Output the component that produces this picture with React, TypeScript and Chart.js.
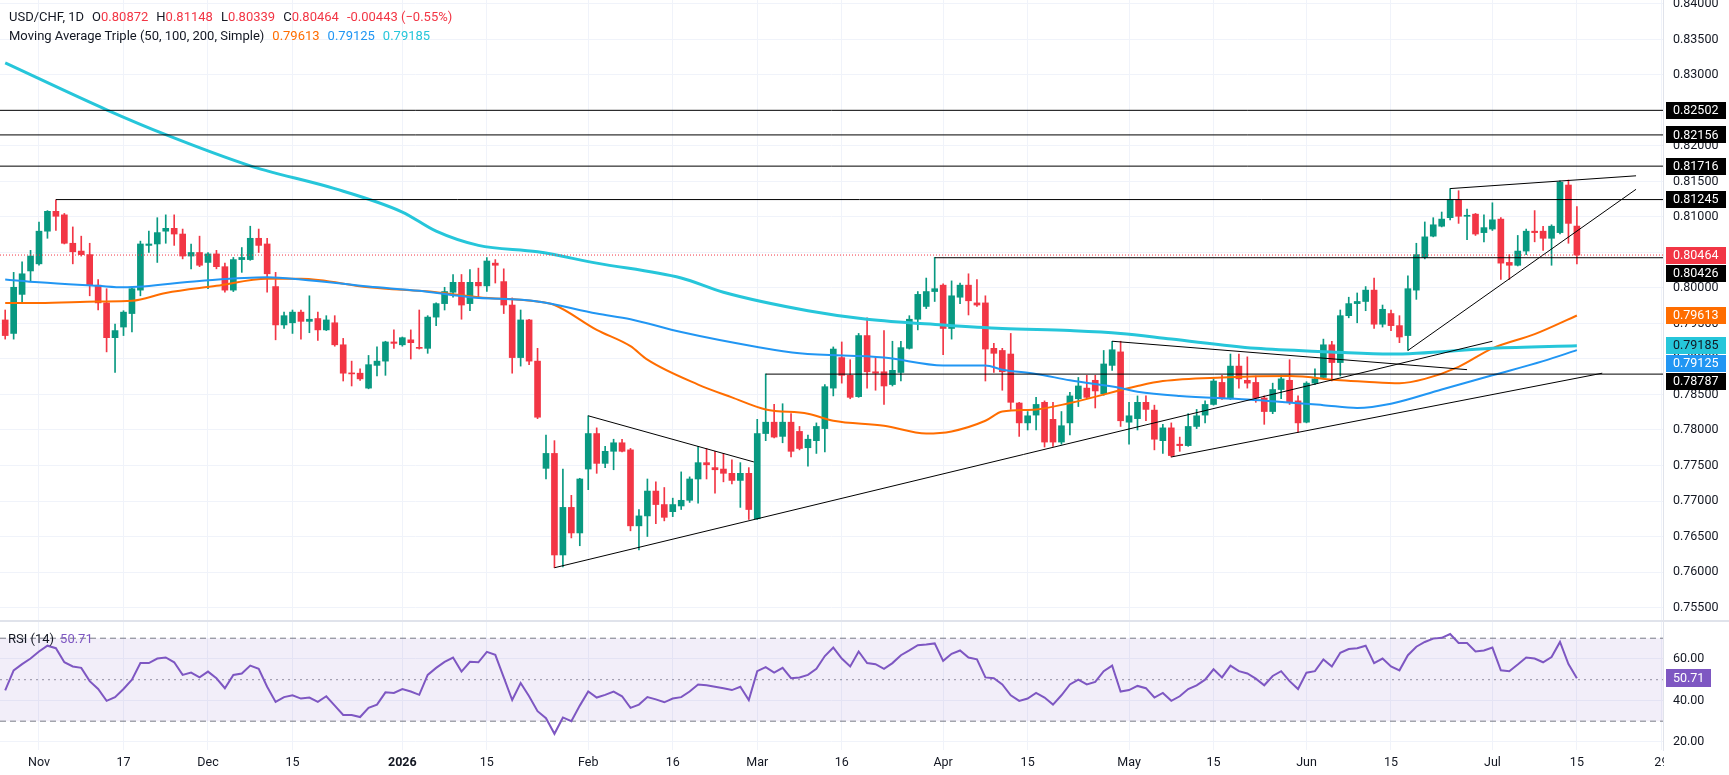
import React, { useEffect, useRef } from "react";
import { Chart, registerables } from "chart.js";

Chart.register(...registerables);

const FONT = "Roboto, 'Noto Sans', sans-serif";
const TEXT = "#131722";
const GRID = "#f0f3fa";
const UP = "#089981";
const DOWN = "#F23645";
const C50 = "#FF6D00";
const C100 = "#2196F3";
const C200 = "#26C6DA";
const RSI_COLOR = "#7E57C2";

// bar index 0 = 3 Nov 2025 (daily bars, weekdays)
const FIRST_INDEX = -4;
const X_MIN = -4.615;
const X_MAX = 192.19;

const OPEN = [
  0.7955, 0.7936, 0.7991, 0.8024, 0.8034, 0.8080, 0.8108, 0.8103, 0.8063, 0.8052,
  0.8047, 0.8004, 0.7979, 0.7930, 0.7945, 0.7964, 0.7997, 0.8060, 0.8062, 0.8080,
  0.8084, 0.8076, 0.8045, 0.8050, 0.8036, 0.8048, 0.8030, 0.7997, 0.8040, 0.8040,
  0.8070, 0.8062, 0.8002, 0.7948, 0.7951, 0.7966, 0.7953, 0.7957, 0.7941, 0.7951,
  0.7920, 0.7880, 0.7880, 0.7859, 0.7891, 0.7897, 0.7924, 0.7920, 0.7927, 0.7916,
  0.7915, 0.7959, 0.7978, 0.7994, 0.8008, 0.7978, 0.8008, 0.8003, 0.8035, 0.8009,
  0.7976, 0.7902, 0.7955, 0.7897, 0.7746, 0.7767, 0.7624, 0.7691, 0.7655, 0.7745,
  0.7795, 0.7753, 0.7770, 0.7782, 0.7772, 0.7665, 0.7679, 0.7714, 0.7695, 0.7685,
  0.7693, 0.7701, 0.7731, 0.7754, 0.7747, 0.7745, 0.7739, 0.7729, 0.7739, 0.7675,
  0.7795, 0.7811, 0.7791, 0.7811, 0.7798, 0.7775, 0.7785, 0.7802, 0.7859, 0.7902,
  0.7877, 0.7847, 0.7933, 0.7882, 0.7882, 0.7864, 0.7881, 0.7915, 0.7956, 0.7974,
  0.7995, 0.8004, 0.7943, 0.7987, 0.8004, 0.7979, 0.7979, 0.7915, 0.7912, 0.7907,
  0.7838, 0.7810, 0.7821, 0.7839, 0.7815, 0.7783, 0.7810, 0.7844, 0.7859, 0.7870,
  0.7851, 0.7891, 0.7910, 0.7811, 0.7816, 0.7839, 0.7828, 0.7785, 0.7803, 0.7780,
  0.7778, 0.7805, 0.7821, 0.7836, 0.7867, 0.7844, 0.7890, 0.7870, 0.7867, 0.7845,
  0.7826, 0.7857, 0.7870, 0.7841, 0.7811, 0.7866, 0.7874, 0.7920, 0.7895, 0.7961,
  0.7978, 0.7981, 0.7997, 0.7949, 0.7964, 0.7947, 0.7933, 0.7997, 0.8043, 0.8073,
  0.8087, 0.8099, 0.8124, 0.8101, 0.8104, 0.8078, 0.8083, 0.8097, 0.8036, 0.8032,
  0.8052, 0.8080, 0.8080, 0.8070, 0.8078, 0.8145, 0.80872,
];
const HIGH = [
  0.7969, 0.8022, 0.8037, 0.8053, 0.8093, 0.8109, 0.8124, 0.8105, 0.8086, 0.8073,
  0.8063, 0.8012, 0.7999, 0.7949, 0.7968, 0.8001, 0.8066, 0.8080, 0.8099, 0.8103,
  0.8103, 0.8083, 0.8062, 0.8073, 0.8050, 0.8053, 0.8035, 0.8043, 0.8057, 0.8087,
  0.8083, 0.8070, 0.8022, 0.7966, 0.7969, 0.7969, 0.7989, 0.7966, 0.7961, 0.7961,
  0.7929, 0.7897, 0.7886, 0.7905, 0.7917, 0.7925, 0.7941, 0.7931, 0.7941, 0.7969,
  0.7961, 0.7979, 0.8001, 0.8019, 0.8019, 0.8026, 0.8028, 0.8043, 0.8040, 0.8027,
  0.7986, 0.7969, 0.7956, 0.7915, 0.7793, 0.7785, 0.7745, 0.7708, 0.7732, 0.7820,
  0.7803, 0.7777, 0.7787, 0.7787, 0.7774, 0.7688, 0.7731, 0.7727, 0.7719, 0.7704,
  0.7741, 0.7734, 0.7777, 0.7774, 0.7770, 0.7767, 0.7758, 0.7754, 0.7747, 0.7815,
  0.7879, 0.7836, 0.7837, 0.7823, 0.7805, 0.7793, 0.7810, 0.7864, 0.7917, 0.7924,
  0.7899, 0.7936, 0.7958, 0.7903, 0.7940, 0.7925, 0.7925, 0.7961, 0.7995, 0.8014,
  0.8043, 0.8006, 0.8010, 0.8007, 0.8020, 0.8012, 0.7989, 0.7922, 0.7915, 0.7936,
  0.7839, 0.7826, 0.7846, 0.7841, 0.7839, 0.7826, 0.7853, 0.7874, 0.7877, 0.7877,
  0.7912, 0.7925, 0.7925, 0.7839, 0.7848, 0.7848, 0.7835, 0.7808, 0.7810, 0.7790,
  0.7823, 0.7829, 0.7841, 0.7872, 0.7877, 0.7907, 0.7907, 0.7903, 0.7876, 0.7848,
  0.7866, 0.7877, 0.7899, 0.7848, 0.7868, 0.7886, 0.7928, 0.7925, 0.7969, 0.7987,
  0.7993, 0.8002, 0.8014, 0.7976, 0.7969, 0.7961, 0.8017, 0.8063, 0.8093, 0.8099,
  0.8107, 0.8140, 0.8137, 0.8111, 0.8105, 0.8103, 0.8120, 0.8099, 0.8047, 0.8074,
  0.8083, 0.8109, 0.8087, 0.8089, 0.8151, 0.8152, 0.81148,
];
const LOW = [
  0.7928, 0.7928, 0.7978, 0.8010, 0.8032, 0.8070, 0.8081, 0.8062, 0.8034, 0.8045,
  0.7989, 0.7969, 0.7910, 0.7881, 0.7933, 0.7938, 0.7989, 0.8050, 0.8036, 0.8063,
  0.8060, 0.8041, 0.8027, 0.8030, 0.7999, 0.8027, 0.7994, 0.7995, 0.8022, 0.8039,
  0.8050, 0.7994, 0.7927, 0.7943, 0.7936, 0.7928, 0.7937, 0.7926, 0.7940, 0.7918,
  0.7869, 0.7862, 0.7870, 0.7858, 0.7876, 0.7877, 0.7915, 0.7918, 0.7900, 0.7914,
  0.7908, 0.7947, 0.7969, 0.7987, 0.7956, 0.7968, 0.7986, 0.7995, 0.8007, 0.7964,
  0.7880, 0.7890, 0.7892, 0.7816, 0.7731, 0.7606, 0.7607, 0.7648, 0.7637, 0.7716,
  0.7739, 0.7747, 0.7744, 0.7769, 0.7658, 0.7631, 0.7650, 0.7668, 0.7672, 0.7678,
  0.7688, 0.7698, 0.7697, 0.7731, 0.7711, 0.7727, 0.7724, 0.7691, 0.7674, 0.7674,
  0.7785, 0.7789, 0.7782, 0.7762, 0.7772, 0.7749, 0.7767, 0.7769, 0.7848, 0.7866,
  0.7844, 0.7846, 0.7859, 0.7856, 0.7836, 0.7862, 0.7869, 0.7914, 0.7941, 0.7971,
  0.7981, 0.7906, 0.7928, 0.7978, 0.7962, 0.7974, 0.7869, 0.7881, 0.7856, 0.7829,
  0.7791, 0.7800, 0.7800, 0.7776, 0.7777, 0.7780, 0.7793, 0.7833, 0.7844, 0.7831,
  0.7849, 0.7884, 0.7805, 0.7780, 0.7800, 0.7813, 0.7772, 0.7767, 0.7762, 0.7770,
  0.7777, 0.7802, 0.7810, 0.7835, 0.7843, 0.7843, 0.7859, 0.7859, 0.7839, 0.7808,
  0.7823, 0.7844, 0.7836, 0.7797, 0.7810, 0.7864, 0.7872, 0.7869, 0.7876, 0.7958,
  0.7951, 0.7968, 0.7943, 0.7945, 0.7940, 0.7923, 0.7912, 0.7984, 0.8041, 0.8072,
  0.8086, 0.8096, 0.8091, 0.8068, 0.8074, 0.8065, 0.8081, 0.8012, 0.8012, 0.8031,
  0.8047, 0.8065, 0.8053, 0.8032, 0.8076, 0.8063, 0.80339,
];
const CLOSE = [
  0.7933, 0.8001, 0.8020, 0.8045, 0.8080, 0.8108, 0.8101, 0.8063, 0.8051, 0.8047,
  0.8004, 0.7979, 0.7930, 0.7940, 0.7966, 0.7999, 0.8062, 0.8062, 0.8078, 0.8084,
  0.8076, 0.8045, 0.8050, 0.8032, 0.8048, 0.8030, 0.7997, 0.8040, 0.8043, 0.8070,
  0.8060, 0.8020, 0.7948, 0.7961, 0.7966, 0.7953, 0.7956, 0.7941, 0.7955, 0.7920,
  0.7880, 0.7879, 0.7872, 0.7892, 0.7897, 0.7924, 0.7922, 0.7930, 0.7923, 0.7915,
  0.7959, 0.7978, 0.7995, 0.8008, 0.7976, 0.8008, 0.8003, 0.8038, 0.8032, 0.7976,
  0.7902, 0.7955, 0.7897, 0.7818, 0.7767, 0.7624, 0.7691, 0.7655, 0.7731, 0.7795,
  0.7753, 0.7770, 0.7782, 0.7770, 0.7665, 0.7679, 0.7714, 0.7695, 0.7677, 0.7695,
  0.7701, 0.7731, 0.7754, 0.7751, 0.7744, 0.7739, 0.7729, 0.7739, 0.7688, 0.7795,
  0.7811, 0.7790, 0.7811, 0.7770, 0.7774, 0.7787, 0.7805, 0.7861, 0.7914, 0.7877,
  0.7846, 0.7933, 0.7882, 0.7880, 0.7862, 0.7884, 0.7916, 0.7956, 0.7991, 0.7995,
  0.7999, 0.7943, 0.7989, 0.8004, 0.7982, 0.7976, 0.7914, 0.7908, 0.7882, 0.7839,
  0.7810, 0.7820, 0.7836, 0.7783, 0.7783, 0.7806, 0.7848, 0.7862, 0.7846, 0.7855,
  0.7893, 0.7913, 0.7813, 0.7820, 0.7839, 0.7829, 0.7787, 0.7803, 0.7764, 0.7778,
  0.7805, 0.7820, 0.7836, 0.7869, 0.7844, 0.7890, 0.7872, 0.7866, 0.7845, 0.7826,
  0.7857, 0.7872, 0.7839, 0.7810, 0.7866, 0.7872, 0.7920, 0.7895, 0.7961, 0.7978,
  0.7981, 0.7997, 0.7949, 0.7970, 0.7947, 0.7931, 0.7999, 0.8047, 0.8072, 0.8089,
  0.8097, 0.8124, 0.8101, 0.8102, 0.8076, 0.8085, 0.8096, 0.8035, 0.8032, 0.8052,
  0.8080, 0.8078, 0.8070, 0.8087, 0.8149, 0.8091, 0.80464,
];

const RSI_VALUES = [
  44.8, 54.5, 57.5, 60.2, 63.6, 66.4, 65.2, 58.4, 56.4, 55.7,
  49.3, 45.5, 39.8, 41.6, 45.5, 50.0, 58.0, 58.0, 60.2, 60.7,
  58.4, 52.3, 53.4, 51.1, 53.9, 50.7, 45.9, 52.3, 53.0, 56.8,
  55.2, 46.6, 39.3, 41.6, 42.5, 40.9, 41.4, 39.3, 42.0, 37.5,
  33.0, 33.0, 32.0, 36.4, 38.0, 43.9, 43.6, 45.5, 44.3, 42.7,
  52.3, 55.7, 58.6, 60.7, 53.9, 58.6, 58.4, 63.4, 62.0, 51.1,
  40.2, 48.4, 42.0, 34.8, 31.4, 23.9, 31.8, 30.0, 37.5, 44.3,
  41.4, 42.7, 44.3, 42.0, 36.4, 38.0, 41.6, 40.5, 39.1, 40.9,
  41.6, 44.3, 47.7, 47.3, 46.6, 45.9, 45.0, 46.6, 40.2, 54.1,
  56.1, 53.4, 55.7, 50.7, 51.1, 52.3, 55.2, 61.4, 65.5, 60.2,
  56.4, 63.6, 58.0, 57.5, 55.2, 58.0, 61.8, 64.1, 66.6, 67.0,
  67.5, 59.1, 62.5, 64.1, 60.7, 59.8, 51.1, 50.7, 47.7, 42.5,
  39.8, 40.9, 43.6, 41.4, 38.0, 42.5, 47.7, 50.0, 47.7, 48.9,
  54.1, 56.8, 44.3, 45.0, 47.0, 45.9, 41.4, 43.6, 39.8, 42.0,
  45.5, 47.3, 50.0, 55.0, 51.1, 56.8, 54.1, 53.0, 50.5, 47.3,
  51.8, 54.1, 49.3, 45.5, 53.4, 54.1, 59.8, 56.4, 63.0, 64.8,
  65.2, 66.4, 58.0, 60.2, 56.4, 54.5, 61.8, 65.9, 68.2, 69.8,
  70.2, 72.0, 67.7, 67.7, 63.6, 64.1, 65.5, 54.5, 54.1, 57.3,
  60.7, 60.2, 58.4, 60.9, 68.2, 57.5, 50.71,
];

const SMA50_X = [-4, 0, 7, 11, 15, 21, 27, 31, 39, 47, 52, 59, 61, 66, 70, 72, 78, 82, 86, 91, 94, 100, 105, 108, 112, 114, 118, 122, 130, 133, 140, 148, 154, 157, 161, 164, 168, 172, 177, 182];
const SMA50_Y = [0.7979, 0.7979, 0.7981, 0.7982, 0.7993, 0.8003, 0.8013, 0.8013, 0.8001, 0.7994, 0.7987, 0.7981, 0.7976, 0.7941, 0.7918, 0.7899, 0.7864, 0.7846, 0.7829, 0.7823, 0.7813, 0.7806, 0.7795, 0.7798, 0.7813, 0.7826, 0.7829, 0.7838, 0.7862, 0.7869, 0.7874, 0.7876, 0.7870, 0.7868, 0.7866, 0.7872, 0.7889, 0.7915, 0.7935, 0.79613];
const SMA100_X = [-4, 0, 7, 10, 19, 27, 31, 39, 45, 51, 59, 66, 70, 76, 85, 90, 100, 107, 112, 114, 118, 122, 128, 130, 135, 143, 152, 156, 160, 166, 172, 178, 182];
const SMA100_Y = [0.8012, 0.8008, 0.8003, 0.8001, 0.8010, 0.8015, 0.8012, 0.8002, 0.7996, 0.7987, 0.7981, 0.7964, 0.7956, 0.7938, 0.7917, 0.7908, 0.7902, 0.7891, 0.7891, 0.7885, 0.7879, 0.7870, 0.7859, 0.7854, 0.7848, 0.7843, 0.7835, 0.7831, 0.7837, 0.7857, 0.7877, 0.7897, 0.79125];
const SMA200_X = [-4, 8, 15, 25, 27, 35, 43, 47, 52, 59, 66, 76, 81, 91, 98, 107, 114, 122, 128, 134, 144, 153, 160, 172, 182];
const SMA200_Y = [0.8317, 0.8251, 0.8216, 0.8172, 0.8165, 0.8140, 0.8107, 0.8080, 0.8060, 0.8051, 0.8035, 0.8014, 0.7994, 0.7968, 0.7956, 0.7948, 0.7943, 0.7940, 0.7936, 0.7928, 0.7915, 0.7910, 0.7907, 0.7915, 0.79185];

// horizontal levels and where they start (bar index)
const LEVELS = [0.82502, 0.82156, 0.81716, 0.81245, 0.80426, 0.78787];
const LEVEL_START = [X_MIN, X_MIN, X_MIN, 2, 106, 86];
const LAST_PRICE = 0.80464;

// trend lines: [x1, y1, x2, y2]
const TRENDLINES = [
  [65, 0.7820, 84.6, 0.7755],
  [61, 0.7606, 172, 0.7925],
  [127, 0.7925, 169, 0.7885],
  [134, 0.7762, 185, 0.7880],
  [162, 0.7912, 189, 0.8139],
  [167, 0.8140, 189, 0.8158],
];

const PRICE_TICKS = [0.755, 0.76, 0.765, 0.77, 0.775, 0.78, 0.785, 0.79, 0.795, 0.8, 0.805, 0.81, 0.815, 0.82, 0.825, 0.83, 0.835, 0.84];
const RSI_TICKS = [20, 40, 60];
const TICK_INDEX = [0, 10, 20, 30, 43, 53, 65, 75, 85, 95, 107, 117, 129, 139, 150, 160, 172, 182, 192];
const TICK_LABELS = ["Nov", "17", "Dec", "15", "2026", "15", "Feb", "16", "Mar", "16", "Apr", "15", "May", "15", "Jun", "15", "Jul", "15", "29"];

const TAG_VALUES = [0.82502, 0.82156, 0.81716, 0.81245, 0.80464, 0.80426, 0.79613, 0.79185, 0.79125, 0.78787];
const TAG_BG = ["#000000", "#000000", "#000000", "#000000", DOWN, "#000000", C50, C200, C100, "#000000"];
const TAG_FG = ["#ffffff", "#ffffff", "#ffffff", "#ffffff", "#ffffff", "#ffffff", "#ffffff", "#131722", "#ffffff", "#ffffff"];

const AXIS_W = 66;
const TAG_FONT = `12.5px ${FONT}`;

const tagPlugin = {
  id: "priceTags",
  afterDraw(chart: any) {
    const ys = chart.scales.y;
    const ctx = chart.ctx;
    const items = TAG_VALUES.map((v, k) => ({ v, py: ys.getPixelForValue(v), bg: TAG_BG[k], fg: TAG_FG[k] }))
      .sort((a, b) => a.py - b.py);
    let last = -1e9;
    ctx.save();
    ctx.font = TAG_FONT;
    ctx.textBaseline = "middle";
    ctx.textAlign = "left";
    for (const it of items) {
      const cy = Math.max(it.py, last + 18);
      last = cy;
      ctx.fillStyle = it.bg;
      ctx.fillRect(ys.left + 3, Math.round(cy - 8.5), 60, 17);
      ctx.fillStyle = it.fg;
      ctx.fillText(it.v.toFixed(5), ys.left + 10, cy + 0.5);
    }
    ctx.restore();
  },
};

const rsiTagPlugin = {
  id: "rsiTag",
  afterDraw(chart: any) {
    const ys = chart.scales.y;
    const ctx = chart.ctx;
    // time-scale labels are cut at the price-axis column, as in the original
    ctx.save();
    ctx.fillStyle = "#ffffff";
    ctx.fillRect(ys.left + 1, chart.chartArea.bottom + 1, chart.width - ys.left, chart.height);
    const v = RSI_VALUES[RSI_VALUES.length - 1];
    const cy = ys.getPixelForValue(v);
    ctx.fillStyle = RSI_COLOR;
    ctx.fillRect(ys.left + 3, Math.round(cy - 9), 45, 18);
    ctx.fillStyle = "#ffffff";
    ctx.font = TAG_FONT;
    ctx.textBaseline = "middle";
    ctx.fillText(v.toFixed(2), ys.left + 10, cy + 0.5);
    ctx.restore();
  },
};

const xs = OPEN.map((_, k) => FIRST_INDEX + k);
const candleColors = OPEN.map((o, k) => (CLOSE[k] >= o ? UP : DOWN));

function xScale(showLabels: boolean) {
  return {
    type: "linear",
    min: X_MIN,
    max: X_MAX,
    offset: false,
    grid: { color: GRID, offset: false, drawTicks: false },
    border: { display: false },
    afterBuildTicks: (s: any) => {
      s.ticks = TICK_INDEX.map((v) => ({ value: v }));
    },
    afterFit: (s: any) => {
      s.height = showLabels ? 25 : 0;
      s.paddingLeft = 0;
      s.paddingRight = 0;
    },
    ticks: {
      display: showLabels,
      padding: 5,
      color: TEXT,
      maxRotation: 0,
      autoSkip: false,
      font: (c: any) => ({ family: FONT, size: 12.5, weight: c.tick && c.tick.value === 43 ? "bold" : "normal" }),
      callback: (v: number) => {
        const k = TICK_INDEX.indexOf(v);
        return k >= 0 ? TICK_LABELS[k] : "";
      },
    },
  };
}

function lineDs(points: { x: number; y: number }[], color: string, width: number, order: number, extra: any = {}) {
  return {
    type: "line",
    data: points,
    borderColor: color,
    borderWidth: width,
    pointRadius: 0,
    fill: false,
    tension: 0,
    order,
    ...extra,
  };
}

function priceConfig(): any {
  const smaDs = (X: number[], Y: number[], color: string, w: number) =>
    lineDs(X.map((x, k) => ({ x, y: Y[k] })), color, w, 1, { cubicInterpolationMode: "monotone" });
  const levels = LEVELS.map((lv, k) =>
    lineDs([{ x: LEVEL_START[k], y: lv }, { x: X_MAX, y: lv }], "#000000", 1, 0)
  );
  const trends = TRENDLINES.map((t) => lineDs([{ x: t[0], y: t[1] }, { x: t[2], y: t[3] }], "#000000", 1, 0));
  return {
    type: "bar",
    data: {
      datasets: [
        {
          type: "bar",
          data: xs.map((x, k) => ({ x, y: [LOW[k], HIGH[k]] })),
          backgroundColor: candleColors,
          barThickness: 1,
          grouped: false,
          order: 3,
        },
        {
          type: "bar",
          data: xs.map((x, k) => ({ x, y: [OPEN[k], CLOSE[k]] })),
          backgroundColor: candleColors,
          barThickness: 6,
          minBarLength: 1,
          grouped: false,
          order: 2,
        },
        smaDs(SMA200_X, SMA200_Y, C200, 3),
        smaDs(SMA100_X, SMA100_Y, C100, 2),
        smaDs(SMA50_X, SMA50_Y, C50, 2),
        lineDs([{ x: X_MIN, y: LAST_PRICE }, { x: X_MAX, y: LAST_PRICE }], DOWN, 1, 0, { borderDash: [1, 2] }),
        ...levels,
        ...trends,
      ],
    },
    options: {
      animation: false,
      responsive: false,
      maintainAspectRatio: false,
      layout: { padding: 0 },
      plugins: { legend: { display: false }, tooltip: { enabled: false } },
      scales: {
        x: xScale(false),
        y: {
          type: "linear",
          position: "right",
          min: 0.7531,
          max: 0.84056,
          grid: { color: GRID, drawTicks: false },
          border: { display: true, color: "#e0e3eb" },
          afterBuildTicks: (s: any) => {
            s.ticks = PRICE_TICKS.map((v) => ({ value: v }));
          },
          afterFit: (s: any) => {
            s.width = AXIS_W;
            s.paddingTop = 0;
            s.paddingBottom = 0;
          },
          ticks: {
            padding: 10,
            color: TEXT,
            font: { family: FONT, size: 12.5 },
            autoSkip: false,
            callback: (v: number) => v.toFixed(5),
          },
        },
      },
    },
    plugins: [tagPlugin],
  };
}

function rsiConfig(): any {
  return {
    type: "line",
    data: {
      datasets: [
        lineDs([{ x: X_MIN, y: 70 }, { x: X_MAX, y: 70 }], "#787B86", 1, 2, { borderDash: [6, 4] }),
        lineDs([{ x: X_MIN, y: 30 }, { x: X_MAX, y: 30 }], "#787B86", 1, 2, {
          borderDash: [6, 4],
          fill: "-1",
          backgroundColor: "rgba(126, 87, 194, 0.1)",
        }),
        lineDs([{ x: X_MIN, y: 50 }, { x: X_MAX, y: 50 }], "rgba(120,123,134,0.8)", 1, 2, { borderDash: [2, 4] }),
        lineDs(xs.map((x, k) => ({ x, y: RSI_VALUES[k] })), RSI_COLOR, 2, 0),
      ],
    },
    options: {
      animation: false,
      responsive: false,
      maintainAspectRatio: false,
      layout: { padding: 0 },
      plugins: { legend: { display: false }, tooltip: { enabled: false } },
      scales: {
        x: xScale(true),
        y: {
          type: "linear",
          position: "right",
          min: 16.1,
          max: 78.3,
          grid: { color: GRID, drawTicks: false },
          border: { display: true, color: "#e0e3eb" },
          afterBuildTicks: (s: any) => {
            s.ticks = RSI_TICKS.map((v) => ({ value: v }));
          },
          afterFit: (s: any) => {
            s.width = AXIS_W;
            s.paddingTop = 0;
            s.paddingBottom = 0;
          },
          ticks: {
            padding: 10,
            color: TEXT,
            font: { family: FONT, size: 12.5 },
            callback: (v: number) => v.toFixed(2),
          },
        },
      },
    },
    plugins: [rsiTagPlugin],
  };
}

export default function App() {
  const priceRef = useRef<HTMLCanvasElement>(null);
  const rsiRef = useRef<HTMLCanvasElement>(null);

  useEffect(() => {
    const pc = new Chart(priceRef.current as HTMLCanvasElement, priceConfig());
    const rc = new Chart(rsiRef.current as HTMLCanvasElement, rsiConfig());
    return () => {
      pc.destroy();
      rc.destroy();
    };
  }, []);

  const red = { color: DOWN };
  const gap = { marginLeft: 8 };
  return (
    <div
      style={{
        position: "fixed",
        left: 0,
        top: 0,
        width: 1729,
        height: 775,
        background: "#ffffff",
        overflow: "hidden",
        fontFamily: FONT,
      }}
    >
      <canvas
        ref={priceRef}
        width={1729}
        height={621}
        style={{ position: "absolute", left: 0, top: 0, width: 1729, height: 621, display: "block" }}
      />
      <canvas
        ref={rsiRef}
        width={1729}
        height={154}
        style={{ position: "absolute", left: 0, top: 621, width: 1729, height: 154, display: "block" }}
      />
      <div style={{ position: "absolute", left: 0, top: 620, width: 1729, height: 2, background: "#e0e3eb" }} />
      <div
        style={{
          position: "absolute",
          left: 9,
          top: 7,
          fontSize: 13,
          lineHeight: "19px",
          color: TEXT,
          whiteSpace: "nowrap",
        }}
      >
        <div>
          <span>USD/CHF, 1D</span>
          <span style={gap}>O<span style={red}>0.80872</span></span>
          <span style={gap}>H<span style={red}>0.81148</span></span>
          <span style={gap}>L<span style={red}>0.80339</span></span>
          <span style={gap}>C<span style={red}>0.80464</span></span>
          <span style={{ ...gap, ...red }}>-0.00443 (−0.55%)</span>
        </div>
        <div>
          <span>Moving Average Triple (50, 100, 200, Simple)</span>
          <span style={{ ...gap, color: C50 }}>0.79613</span>
          <span style={{ ...gap, color: C100 }}>0.79125</span>
          <span style={{ ...gap, color: C200 }}>0.79185</span>
        </div>
      </div>
      <div
        style={{
          position: "absolute",
          left: 8,
          top: 630,
          fontSize: 13,
          lineHeight: "18px",
          color: TEXT,
          whiteSpace: "nowrap",
        }}
      >
        <span>RSI (14)</span>
        <span style={{ marginLeft: 6, color: RSI_COLOR }}>50.71</span>
      </div>
    </div>
  );
}
